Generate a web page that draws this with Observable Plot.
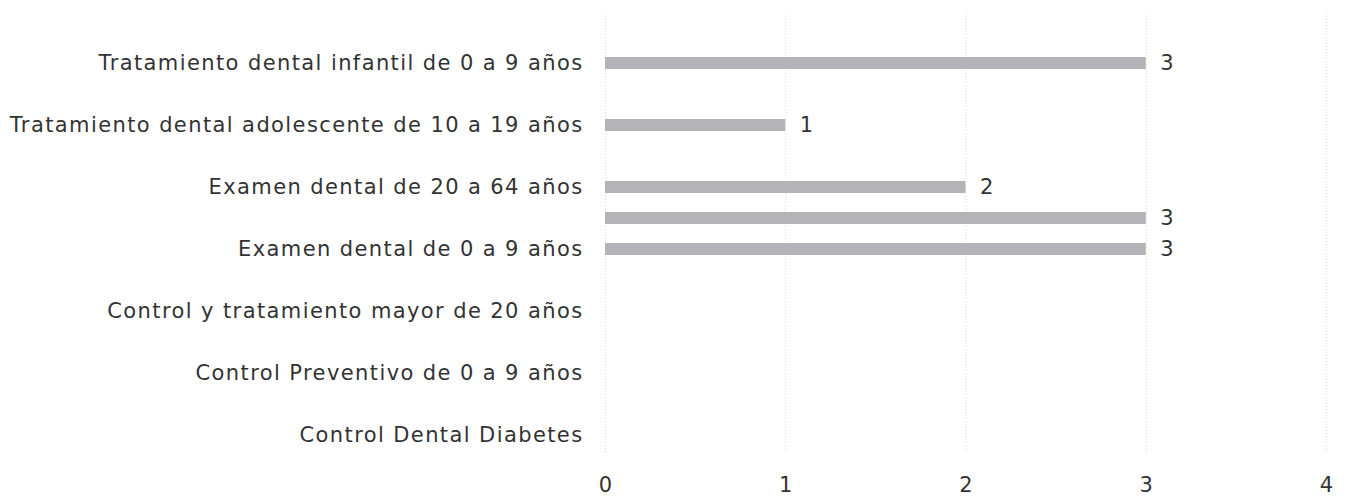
<!DOCTYPE html>
<html>
<head>
<meta charset="utf-8">
<script src="https://cdn.jsdelivr.net/npm/d3@7"></script>
<script src="https://cdn.jsdelivr.net/npm/@observablehq/plot@0.6"></script>
<style>
  html, body { margin: 0; padding: 0; background: #fff; }
  g[aria-label="y-axis tick label"] text { letter-spacing: 1.4px; }
</style>
</head>
<body>
<div id="chart"></div>
<script>
// Category rows, top to bottom; only every other row carries a visible label.
const rowLabels = [
  "",
  "Tratamiento dental infantil de 0 a 9 años",
  "",
  "Tratamiento dental adolescente de 10 a 19 años",
  "",
  "Examen dental de 20 a 64 años",
  "",
  "Examen dental de 0 a 9 años",
  "",
  "Control y tratamiento mayor de 20 años",
  "",
  "Control Preventivo de 0 a 9 años",
  "",
  "Control Dental Diabetes"
];

// Count per row (null = no bar).
const rowValues = [null, 3, null, 1, null, 2, 3, 3, null, null, null, null, null, null];

// Value axis ticks.
const xTicks = [0, 1, 2, 3, 4];

const rows = rowLabels.map((label, i) => ({ slot: i, label, value: rowValues[i] }));
const filled = rows.filter(d => d.value != null);

const chart = Plot.plot({
  width: 1349,
  height: 501,
  marginLeft: 605,
  marginRight: 23,
  marginTop: 13,
  marginBottom: 48,
  style: { fontFamily: "DejaVu Sans", fontSize: "20px", color: "#333", background: "#fff" },
  x: { domain: [0, 4], ticks: xTicks, label: null },
  y: { domain: d3.range(rowLabels.length), paddingInner: 0.62, paddingOuter: 0.31, label: null },
  marks: [
    Plot.gridX(xTicks, { stroke: "#d9d9d9", strokeOpacity: 1, strokeDasharray: "1,2" }),
    Plot.barX(filled, { x: "value", y: "slot", fill: "#b4b4b8" }),
    Plot.text(filled, {
      x: "value", y: "slot", text: d => String(d.value),
      textAnchor: "start", dx: 14, fontSize: 21, fill: "#333"
    }),
    Plot.axisY({ tickSize: 0, tickPadding: 22, tickFormat: i => rowLabels[i], fontSize: 21, label: null }),
    Plot.axisX(xTicks, { tickSize: 0, tickPadding: 24, tickFormat: d3.format("d"), fontSize: 21, label: null })
  ]
});

document.getElementById("chart").appendChild(chart);
</script>
</body>
</html>
